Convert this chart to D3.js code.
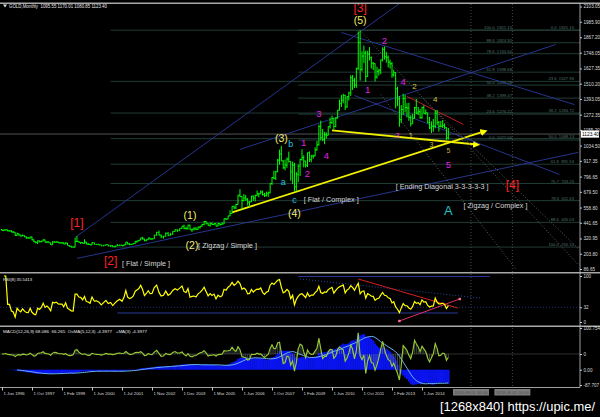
<!DOCTYPE html>
<html><head><meta charset="utf-8">
<script src="https://cdnjs.cloudflare.com/ajax/libs/d3/7.8.5/d3.min.js"></script>
<style>
html,body{margin:0;padding:0;background:#000;overflow:hidden;}
svg{display:block;}
text{font-family:"Liberation Sans",Arial,sans-serif;white-space:pre;}
</style></head><body>
<svg id="chart" width="600" height="417"></svg>
<script>
// ================= DATA =================
const firstMonth = "1996-06";
const firstOpen = 390;
const closes = [
382,386,387,379,379,371,369,
345,358,348,340,345,334,326,325,332,311,296,290,
303,297,301,310,293,296,288,273,294,292,294,288,
287,287,279,286,268,261,255,254,299,299,291,290,
283,293,278,276,272,289,276,277,273,264,269,274,
265,267,258,263,267,270,266,273,293,279,275,277,
282,297,302,308,326,318,304,312,324,317,318,347,
368,347,334,338,361,346,354,375,388,384,398,416,
399,396,423,388,393,395,391,407,415,428,452,438,
422,435,428,435,417,435,429,433,473,470,495,513,
568,556,582,654,643,613,632,623,599,603,646,632,
650,664,663,677,659,650,665,672,743,789,783,834,
923,971,917,864,885,930,913,833,884,718,814,878,
927,942,916,883,980,927,955,955,1001,1040,1181,1096,
1081,1118,1113,1180,1212,1244,1181,1246,1307,1357,1383,1421,
1332,1411,1439,1556,1536,1500,1628,1826,1620,1722,1746,1565,
1737,1710,1668,1664,1561,1604,1614,1692,1772,1719,1712,1675,
1663,1578,1596,1472,1393,1234,1312,1395,1327,1323,1250,1202,
1244,1326,1284,1295,1250,1327,1282,1287,1210,1171,1182,1184,
1283,1213,1183,1183,1190,1172,1095,1123
];
const highs = [
395,390,392,389,386,385,378,
370,365,358,349,351,345,336,332,335,335,313,297,
306,304,303,316,312,298,296,288,300,301,300,298,
292,290,290,291,288,268,265,260,326,339,301,294,
292,315,296,287,278,292,290,279,278,273,272,275,
274,269,268,265,279,275,270,275,293,293,285,280,
286,303,304,310,327,333,319,314,327,326,322,349,
372,382,352,341,367,371,365,377,391,392,399,417,
427,412,427,427,396,408,409,414,417,433,455,456,
440,445,444,438,436,443,437,446,475,476,496,537,
570,573,588,654,700,646,663,655,632,608,649,652,
658,690,672,692,689,672,681,681,744,794,842,840,
932,1004,1033,923,927,944,988,915,912,903,831,889,
933,1006,960,919,981,990,962,965,1022,1070,1195,1226,
1162,1140,1137,1182,1249,1265,1245,1253,1308,1388,1424,1432,
1424,1413,1448,1575,1577,1556,1632,1911,1920,1759,1803,1764,
1763,1791,1719,1676,1667,1640,1624,1695,1790,1796,1755,1727,
1695,1676,1617,1598,1487,1416,1347,1434,1424,1361,1363,1267,
1279,1332,1392,1331,1315,1332,1345,1312,1287,1255,1221,1239,
1307,1308,1224,1224,1232,1205,1175,1170
];
const lows = [
378,380,383,376,377,368,366,
341,342,343,336,339,332,318,319,320,306,292,283,
278,291,292,300,290,285,287,271,272,290,290,285,
283,283,278,278,268,258,252,253,254,293,290,279,
282,281,277,272,271,271,275,272,268,263,263,267,
260,256,255,253,263,264,263,264,271,275,270,273,
277,282,288,300,308,313,300,301,311,313,312,317,
342,345,323,320,335,339,342,350,372,370,377,396,
391,390,389,387,371,382,387,388,397,412,423,428,
418,412,426,423,414,414,418,429,432,463,469,493,
512,546,546,581,640,543,605,609,574,560,601,610,
605,647,637,662,650,640,643,641,668,732,776,771,
830,888,914,856,844,864,904,765,738,681,687,754,
801,920,868,866,870,908,906,932,952,996,1035,1075,
1068,1045,1088,1113,1165,1200,1157,1176,1242,1305,1331,1360,
1308,1325,1381,1416,1462,1478,1478,1615,1534,1604,1669,1523,
1563,1688,1627,1614,1527,1549,1572,1583,1681,1695,1672,1635,
1626,1555,1565,1321,1338,1180,1208,1270,1291,1251,1225,1182,
1202,1241,1277,1268,1240,1240,1280,1273,1207,1161,1131,1141,
1167,1191,1142,1174,1170,1163,1077,1081
];
const timeTickLabels = ["1 Jun 1996","1 Oct 1997","1 Feb 1999","1 Jun 2000","1 Jul 2001","1 Nov 2002","1 Dec 2003","1 Mar 2005","1 Jun 2006","1 Oct 2007","1 Feb 2009","1 Jun 2010","1 Oct 2011","1 Feb 2013","1 Jun 2014"];
const priceTicks = [2103.05,1985.90,1867.20,1748.05,1627.35,1510.20,1393.05,1272.35,1155.20,1034.50,917.35,796.65,679.50,558.80,441.65,320.95,203.80,86.65];
const rsiTicks = [100,32,0];
const header = "GOLD,Monthly  1095.55 1170.01 1080.85 1123.40";
const lastPrice = 1123.40;

// Fibonacci retracement tools
const fibLong = {from:"2001-02", high:1921.15, low:255.10, levels:[0,23.6,38.2,50,61.8,70.7,78.6,88.6,100]};
const fibShort = {from:"2008-12", high:1921.15, low:1077.00, levels:[0,23.6,38.2,50,61.8,78.6,88.6,100]};

// Elliott wave labels: text, month, price, kind
const waveLabels = [
 ["[3]","2011-09",2092,"red"],["(5)","2011-09",1995,"yellow"],
 ["2","2012-10",1842,"magenta"],["1","2012-01",1465,"magenta"],
 ["4","2013-08",1526,"magenta"],["2","2014-02",1488,"yellowS"],
 ["4","2015-01",1395,"yellowS"],["3","2013-05",1118,"magentaS"],
 ["1","2013-12",1118,"yellowS"],["3","2014-11",1042,"yellowXS"],
 ["5","2015-08",995,"yellowXS"],["5","2015-08",888,"magenta"],
 ["A","2015-08",541,"cyanL"],["[4]","2018-06",734,"red"],
 ["(4)","2008-10",518,"yellow"],["c","2008-10",618,"cyan"],
 ["a","2008-04",757,"cyan"],["(3)","2008-03",1088,"yellow"],
 ["b","2008-08",1050,"cyan"],["1","2009-03",1057,"magenta"],
 ["2","2009-05",819,"magenta"],["4","2010-03",957,"magenta"],
 ["3","2009-11",1280,"magenta"],["(1)","2004-04",503,"yellow"],
 ["(2)","2004-05",272,"yellow"],["[1]","1999-10",442,"red"],
 ["[2]","2001-02",150,"red"]
];
// Pattern notes: text, month (left edge), price
const noteLabels = [
 ["[ Flat / Simple ]","2001-07",129],
 ["[ Zigzag / Simple ]","2004-08",272],
 ["[ Flat / Complex ]","2009-03",621],
 ["[ Ending Diagonal 3-3-3-3-3 ]","2013-04",721],
 ["[ Zigzag / Complex ]","2016-04",575]
];
// Trend lines in (month, price)
const trendLines = [
 ["arrow","2006-01",521,"2017-03",1143],
 ["arrow","2010-06",1151,"2016-11",1043],
 ["red","2013-10",1412,"2016-04",1197],
 ["blue","1999-09",329,"2013-06",2126],
 ["blue","1999-10",168,"2021-05",982],
 ["blue","2006-05",1005,"2020-05",1811],
 ["blue","2010-11",1903,"2021-03",1350],
 ["blue","2011-06",1419,"2020-07",813],
 ["dot","2011-10",1903,"2021-05",121],
 ["dot","2012-08",1427,"2018-08",83],
 ["dot","2014-07",1389,"2021-05",244]
];
const verticalLines = ["2016-08","2018-06"];
const verticalLineLabels = ["2016.08.01 00:00","2018.06.01 00:00"];
// RSI window objects (month, rsi value)
const rsiObjects = [
 ["blue","2001-05",19.6,"2016-01",19.6],
 ["blue","2008-12",99,"2017-06",99],
 ["bluedot","2009-01",93.5,"2017-01",52],
 ["red","2011-08",93.5,"2016-01",30.4],
 ["pink","2013-06",2.2,"2016-02",50]
];
const rsiLevel = 32;

// ================= SETUP =================
const svg = d3.select("#chart");
const W = 600, H = 417, AX = 580;
svg.append("rect").attr("width",W).attr("height",H).attr("fill","#000");
const parseM = d3.timeParse("%Y-%m");
const parseTick = d3.timeParse("%d %b %Y");
const start = parseM(firstMonth);
const months = d3.range(closes.length).map(i => d3.timeMonth.offset(start, i));
const opens = closes.map((c,i) => i === 0 ? firstOpen : closes[i-1]);
const tickDates = timeTickLabels.map(parseTick);

const x = d3.scaleTime().domain(tickDates).range(tickDates.map((d,i) => 2 + 30*i));
const y = d3.scaleLinear().domain([86.65, 2103.05]).range([269, 6.5]);
const rsiY = d3.scaleLinear().domain([0,100]).range([322, 276]);
const xm = s => x(parseM(s));

const defs = svg.append("defs");
function clip(id,y0,y1){defs.append("clipPath").attr("id",id).append("rect").attr("x",0).attr("y",y0).attr("width",AX).attr("height",y1-y0);}
clip("cMain",3.5,272); clip("cRsi",274.5,325); clip("cMacd",327.5,387);
defs.append("marker").attr("id","arr").attr("viewBox","0 0 10 10").attr("refX",5).attr("refY",5)
  .attr("markerWidth",4).attr("markerHeight",4).attr("orient","auto")
  .append("path").attr("d","M0,0 L10,5 L0,10 z").attr("fill","#ffff00");

// ================= MAIN PANEL =================
const gMain = svg.append("g").attr("clip-path","url(#cMain)");

function drawFib(f, labelEnd, up) {
  f.levels.forEach(l => {
    const p = up ? f.low + l/100*(f.high - f.low) : f.high - l/100*(f.high - f.low);
    gMain.append("line").attr("x1",xm(f.from)).attr("x2",AX).attr("y1",y(p)).attr("y2",y(p))
      .attr("stroke","#2a4a42").attr("stroke-width",0.8);
    gMain.append("text").attr("x",labelEnd).attr("y",y(p)-1).attr("text-anchor","end")
      .attr("font-size",4.2).attr("fill","#4f746a").text(l.toFixed(1)+"  "+p.toFixed(2));
  });
}
drawFib(fibLong, 574, false);
drawFib(fibShort, 512, true);

gMain.append("line").attr("x1",0).attr("x2",AX).attr("y1",y(lastPrice)).attr("y2",y(lastPrice))
  .attr("stroke","#6a6a6a").attr("stroke-width",0.8);

verticalLines.forEach(v => {
  svg.append("line").attr("x1",xm(v)).attr("x2",xm(v)).attr("y1",4).attr("y2",387)
    .attr("stroke","#5a5a5a").attr("stroke-width",0.8).attr("stroke-dasharray","1,2");
});

const lineStyle = {
  arrow:{stroke:"#f2f200",w:1.8,dash:null},
  red:{stroke:"#d42020",w:0.9,dash:null},
  blue:{stroke:"#2a3a9a",w:0.9,dash:null},
  dot:{stroke:"#6a6a6a",w:0.9,dash:"1,2"}
};
trendLines.forEach(([k,d1,p1,d2,p2]) => {
  const s = lineStyle[k];
  const ln = gMain.append("line").attr("x1",xm(d1)).attr("y1",y(p1)).attr("x2",xm(d2)).attr("y2",y(p2))
    .attr("stroke",s.stroke).attr("stroke-width",s.w);
  if (s.dash) ln.attr("stroke-dasharray",s.dash);
  if (k === "arrow") ln.attr("marker-end","url(#arr)");
});

const bars = gMain.append("g").attr("stroke","#00ff00").attr("stroke-width",1);
months.forEach((m,i) => {
  const cx = x(m);
  const hi = Math.max(highs[i], opens[i], closes[i]), lo = Math.min(lows[i], opens[i], closes[i]);
  bars.append("line").attr("x1",cx).attr("x2",cx).attr("y1",y(hi)).attr("y2",y(lo));
  bars.append("line").attr("x1",cx-1).attr("x2",cx).attr("y1",y(opens[i])).attr("y2",y(opens[i]));
  bars.append("line").attr("x1",cx).attr("x2",cx+1).attr("y1",y(closes[i])).attr("y2",y(closes[i]));
});

const waveStyle = {
  red:{fill:"#ff2222",size:12}, yellow:{fill:"#f6ec6a",size:10.5},
  yellowS:{fill:"#d8c23c",size:8}, yellowXS:{fill:"#c8b030",size:7},
  magenta:{fill:"#e020e0",size:9.5}, magentaS:{fill:"#e040c8",size:8},
  cyan:{fill:"#22c4e4",size:9}, cyanL:{fill:"#22c0c0",size:13}
};
waveLabels.forEach(([t,d,p,k]) => {
  const s = waveStyle[k];
  svg.append("text").attr("x",xm(d)).attr("y",y(p)).attr("dy","0.36em").attr("text-anchor","middle")
    .attr("font-size",s.size).attr("fill",s.fill).text(t);
});
const noteWidths = {"[ Flat / Simple ]":48,"[ Zigzag / Simple ]":59,"[ Flat / Complex ]":55,"[ Ending Diagonal 3-3-3-3-3 ]":93,"[ Zigzag / Complex ]":64};
noteLabels.forEach(([t,d,p]) => {
  svg.append("text").attr("x",xm(d)).attr("y",y(p)).attr("dy","0.36em")
    .attr("font-size",7.5).attr("fill","#d6d6d6")
    .attr("textLength",noteWidths[t]).attr("lengthAdjust","spacingAndGlyphs").text(t);
});

svg.append("path").attr("d","M3,4.5 L7,4.5 L5,7.5 Z").attr("fill","#e0e0e0");
svg.append("text").attr("x",9).attr("y",7.6).attr("font-size",4.8).attr("fill","#e6e6e6")
  .attr("textLength",98).attr("lengthAdjust","spacingAndGlyphs").text(header);

// ================= RSI =================
function rsiCalc(c,n){
  const out=[null]; let ag=0, al=0, sg=0, sl=0;
  for(let i=1;i<c.length;i++){
    const ch=c[i]-c[i-1], g=Math.max(ch,0), l=Math.max(-ch,0);
    if(i<=n){ sg+=g; sl+=l; ag=sg/i; al=sl/i; }
    else { ag=(ag*(n-1)+g)/n; al=(al*(n-1)+l)/n; }
    out.push(al===0?100:100-100/(1+ag/al));
  }
  return out;
}
const rsi = rsiCalc(closes, 8);
const gRsi = svg.append("g").attr("clip-path","url(#cRsi)");
gRsi.append("line").attr("x1",0).attr("x2",AX).attr("y1",rsiY(rsiLevel)).attr("y2",rsiY(rsiLevel))
  .attr("stroke","#2a3a9a").attr("stroke-width",0.8).attr("stroke-dasharray","1,2");
const rsiStyle = {blue:{s:"#2a3a9a",d:null},bluedot:{s:"#2a4aa0",d:"1,2"},red:{s:"#d42020",d:null},pink:{s:"#e0306a",d:null}};
rsiObjects.forEach(([k,d1,v1,d2,v2]) => {
  const s = rsiStyle[k];
  const ln = gRsi.append("line").attr("x1",xm(d1)).attr("y1",rsiY(v1)).attr("x2",xm(d2)).attr("y2",rsiY(v2))
    .attr("stroke",s.s).attr("stroke-width",1);
  if (s.d) ln.attr("stroke-dasharray",s.d);
  if (k === "pink") [[d1,v1],[d2,v2]].forEach(([d,v]) => gRsi.append("rect").attr("x",xm(d)-1.2).attr("y",rsiY(v)-1.2)
     .attr("width",2.4).attr("height",2.4).attr("fill","#ff7090"));
});
gRsi.append("path").datum(rsi.map((v,i)=>[months[i],v]).filter(d=>d[1]!==null))
  .attr("d",d3.line().x(d=>x(d[0])).y(d=>rsiY(d[1])))
  .attr("fill","none").attr("stroke","#ffff00").attr("stroke-width",1.2);
svg.append("text").attr("x",3).attr("y",280.5).attr("font-size",4.3).attr("fill","#e6e6e6")
  .text("RSI(8) " + rsi[rsi.length-1].toFixed(4));

// ================= MACD =================
function ema(a,n){const k=2/(n+1);let p=a[0];return a.map((v,i)=>(p=i===0?v:v*k+p*(1-k)));}
function sma(a,n){return a.map((v,i)=> i<n-1?null:d3.mean(a.slice(i-n+1,i+1)));}
const e12 = ema(closes,12), e26 = ema(closes,26);
const macd = e12.map((v,i)=>v-e26[i]);
const signal = sma(macd,9);
const e5 = ema(closes,5);
const fast = e5.map((v,i)=>v-e12[i]);
const fastSig = sma(fast,3);
const osma = fast.map((v,i)=> fastSig[i]===null?0:v-fastSig[i]);

const macdY = d3.scaleLinear().domain(d3.extent(macd)).range([385, 334]);
const osM = d3.max(osma, v=>Math.abs(v));
const osY = d3.scaleLinear().domain([-osM, osM]).range([380, 328]);
const gMacd = svg.append("g").attr("clip-path","url(#cMacd)");
gMacd.append("line").attr("x1",0).attr("x2",AX).attr("y1",osY(0)).attr("y2",osY(0))
  .attr("stroke","#3a3a3a").attr("stroke-width",0.8);
gMacd.selectAll("rect.h").data(macd).join("rect")
  .attr("x",(d,i)=>x(months[i])-1).attr("width",2.2)
  .attr("y",d=>Math.min(macdY(d),macdY(0))).attr("height",d=>Math.abs(macdY(d)-macdY(0)))
  .attr("fill","#0a14f0");
gMacd.selectAll("line.o").data(osma).join("line")
  .attr("x1",(d,i)=>x(months[i])).attr("x2",(d,i)=>x(months[i]))
  .attr("y1",osY(0)).attr("y2",d=>osY(d)).attr("stroke","#7a8a7a").attr("stroke-width",0.5);
gMacd.append("path").datum(signal.map((v,i)=>[months[i],v]).filter(d=>d[1]!==null))
  .attr("d",d3.line().x(d=>x(d[0])).y(d=>macdY(d[1])))
  .attr("fill","none").attr("stroke","#6ab4f0").attr("stroke-width",1);
gMacd.append("path").datum(osma.map((v,i)=>[months[i],v]))
  .attr("d",d3.line().x(d=>x(d[0])).y(d=>osY(d[1])))
  .attr("fill","none").attr("stroke","#9acd32").attr("stroke-width",1.1);
svg.append("text").attr("x",3).attr("y",333).attr("font-size",4.3).attr("fill","#e6e6e6")
  .attr("textLength",144).attr("lengthAdjust","spacingAndGlyphs")
  .text("MACD(12,26,9) 68.086  66.265  OsMA(5,12,3) -4.3977   +MA(3) -4.3977");

// ================= FRAME & AXES =================
[3.2, 272.8, 326.2].forEach(yy => svg.append("line").attr("x1",0).attr("x2",W).attr("y1",yy).attr("y2",yy)
  .attr("stroke","#a8a8a8").attr("stroke-width",1.5));
svg.append("line").attr("x1",AX).attr("x2",AX).attr("y1",3).attr("y2",387.5).attr("stroke","#c8c8c8").attr("stroke-width",0.8);

function styleAxis(g,fs){
  g.select(".domain").remove();
  g.selectAll("line").attr("stroke","#c8c8c8");
  g.selectAll("text").attr("fill","#dcdcdc").attr("font-size",fs).attr("font-family","Liberation Sans, Arial, sans-serif");
}
const yAxis = svg.append("g").attr("transform",`translate(${AX},0)`)
  .call(d3.axisRight(y).tickValues(priceTicks).tickFormat(d3.format(".2f")).tickSize(2).tickPadding(1.5));
styleAxis(yAxis,4.6);
const rAxis = svg.append("g").attr("transform",`translate(${AX},0)`)
  .call(d3.axisRight(rsiY).tickValues(rsiTicks).tickFormat(d3.format("d")).tickSize(2).tickPadding(1.5));
styleAxis(rAxis,4.6);
const mAxis = svg.append("g").attr("transform",`translate(${AX},0)`)
  .call(d3.axisRight(macdY).tickValues([0, macdY.domain()[0]]).tickFormat((d,i)=> i===0?"0.00":"-87.707").tickSize(2).tickPadding(1.5));
styleAxis(mAxis,4.6);
const oAxis = svg.append("g").attr("transform",`translate(${AX},0)`)
  .call(d3.axisRight(osY).tickValues([0, osY.domain()[1]]).tickFormat((d,i)=> i===0?"0":"100.754").tickSize(2).tickPadding(1.5));
styleAxis(oAxis,4.6);

const cp = y(lastPrice);
svg.append("rect").attr("x",AX+1).attr("y",cp-3.6).attr("width",18).attr("height",7.2).attr("fill","#ffffff");
svg.append("text").attr("x",AX+2).attr("y",cp+1.7).attr("font-size",4.8).attr("fill","#000").text(lastPrice.toFixed(2));

svg.append("line").attr("x1",0).attr("x2",AX).attr("y1",387.5).attr("y2",387.5).attr("stroke","#c8c8c8").attr("stroke-width",0.8);
const xAxis = svg.append("g").attr("transform","translate(0,387.5)")
  .call(d3.axisBottom(x).tickValues(tickDates).tickFormat((d,i)=>timeTickLabels[i]).tickSize(3).tickPadding(1));
xAxis.select(".domain").remove();
xAxis.selectAll("line").attr("stroke","#c8c8c8");
xAxis.selectAll("text").attr("fill","#dcdcdc").attr("font-size",4.3).attr("text-anchor","start").attr("x",1).attr("dy","0.9em")
  .attr("font-family","Liberation Sans, Arial, sans-serif");

verticalLines.forEach((v,i) => {
  const cx = xm(v);
  svg.append("rect").attr("x",cx-18).attr("y",389).attr("width",36).attr("height",6.5).attr("fill","#7c7c7c");
  svg.append("text").attr("x",cx).attr("y",393.8).attr("text-anchor","middle").attr("font-size",4.3)
    .attr("fill","#4a4a4a").text(verticalLineLabels[i]);
});

svg.append("text").attr("x",440).attr("y",411).attr("font-size",13).attr("fill","#ffffff")
  .attr("font-family","DejaVu Sans, sans-serif")
  .attr("textLength",155).attr("lengthAdjust","spacingAndGlyphs").text("[1268x840] https://upic.me/");
</script>
</body></html>
